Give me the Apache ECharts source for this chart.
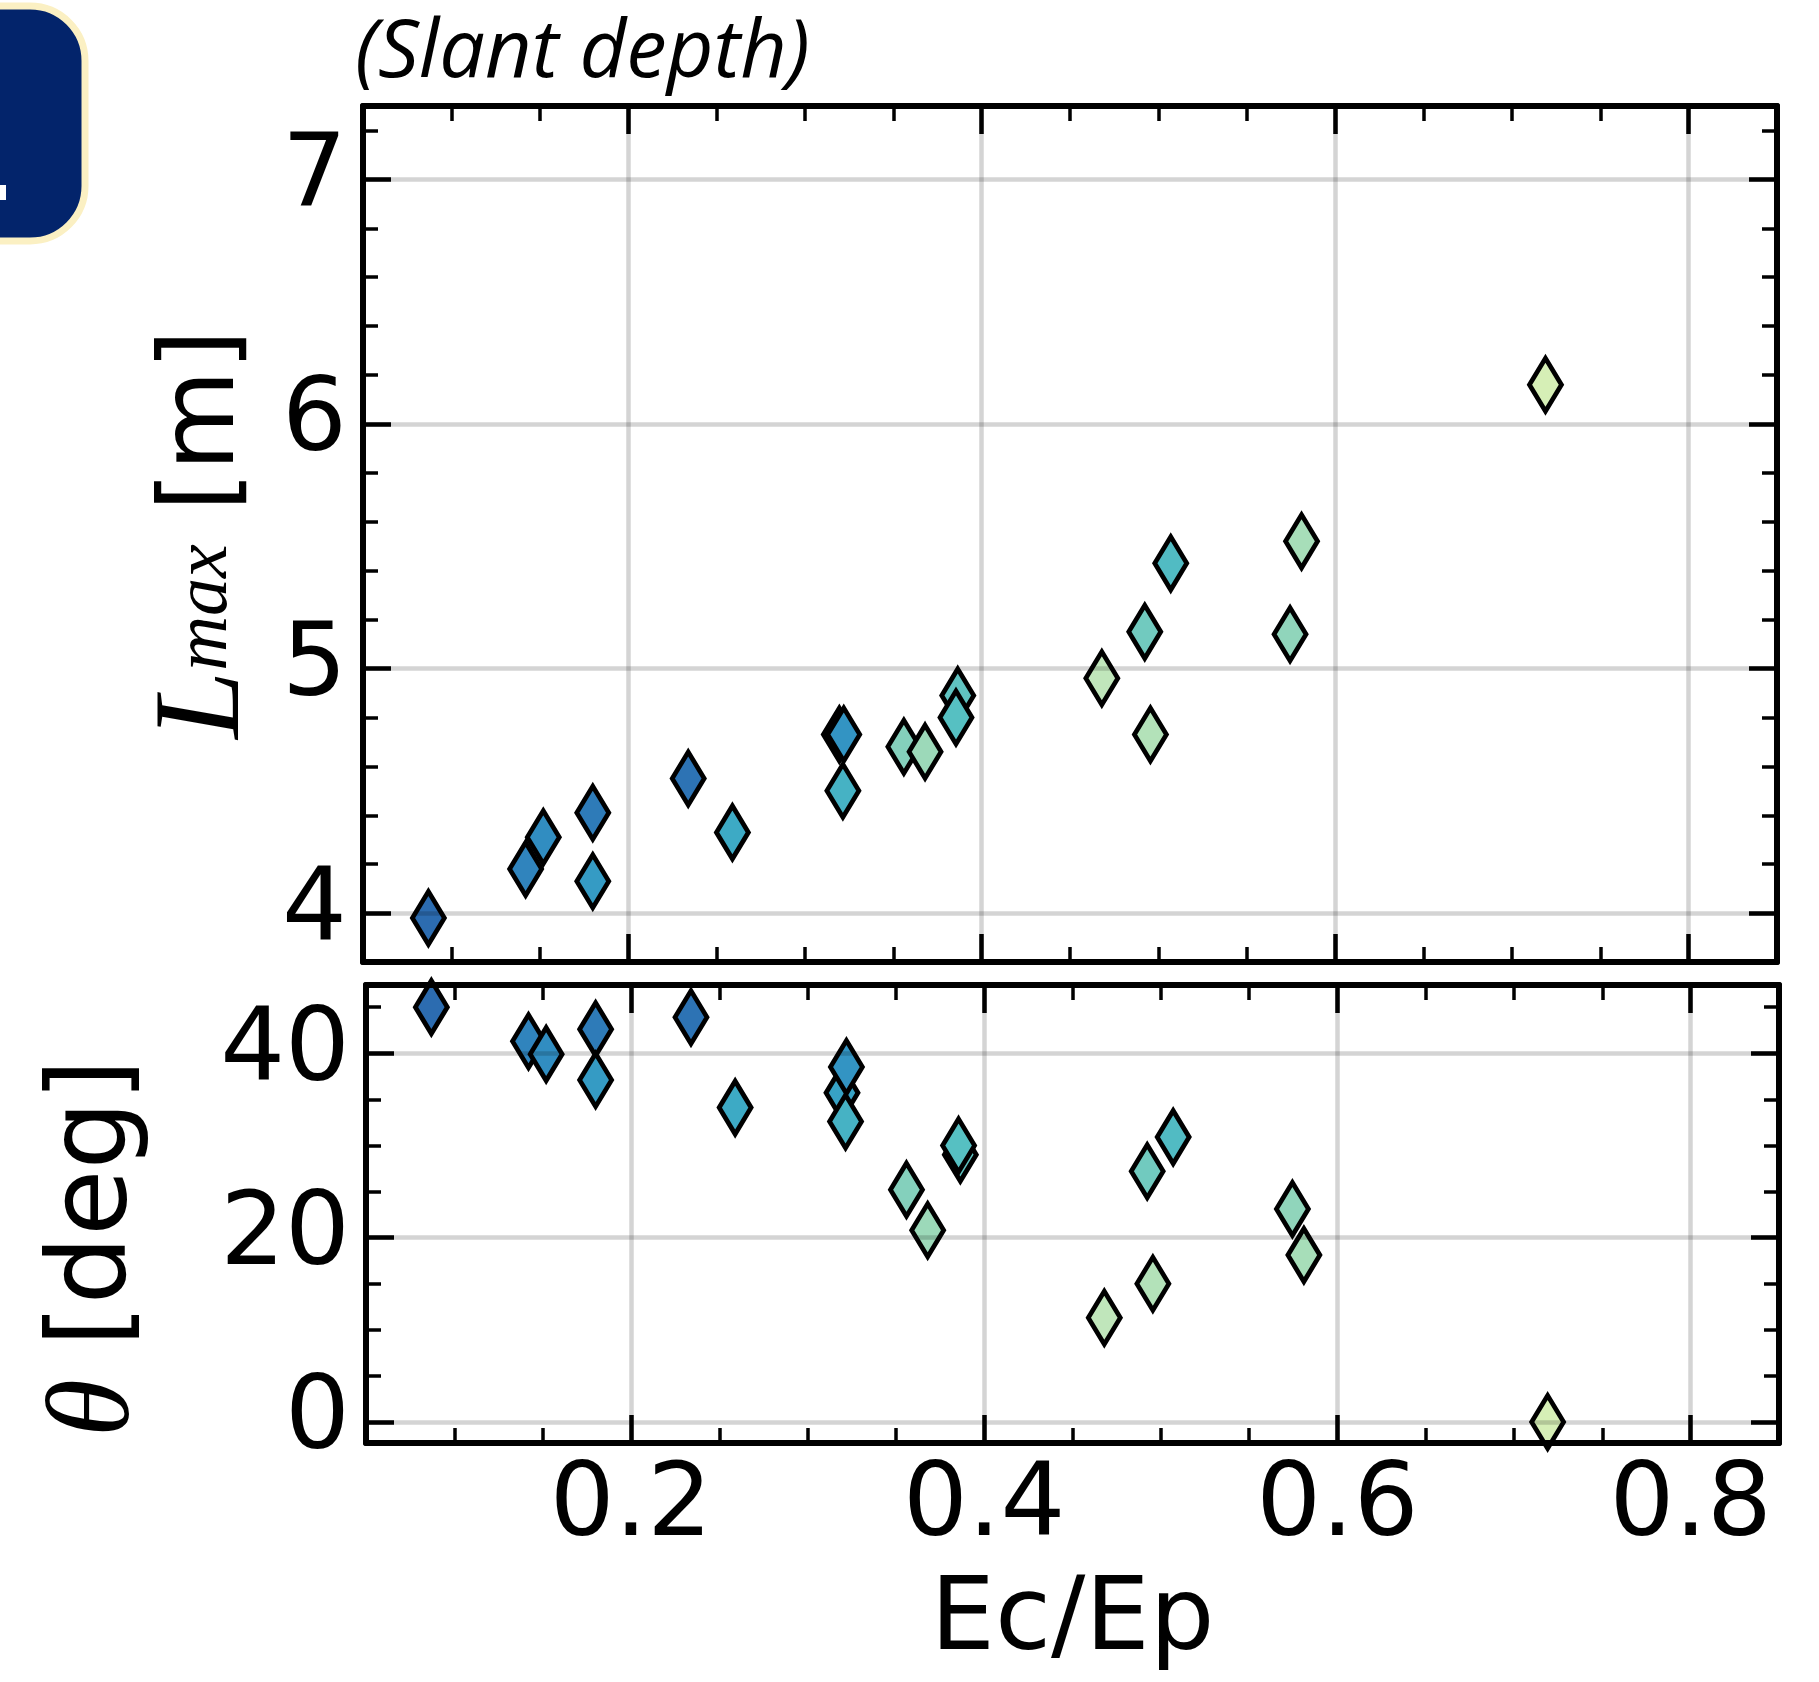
<!DOCTYPE html>
<html><head><meta charset="utf-8">
<script src="https://cdn.jsdelivr.net/npm/echarts@6/dist/echarts.min.js"></script>
<style>html,body{margin:0;padding:0;background:#fff}#c{width:1819px;height:1682px}</style>
</head><body><div id="c"></div>
<script>
// ---- data ----
const ecEp  = [0.087, 0.142, 0.152, 0.180, 0.180, 0.234, 0.259, 0.3195, 0.322, 0.3215, 0.356, 0.368, 0.3865, 0.3855, 0.468, 0.4955, 0.4923, 0.507, 0.5745, 0.581, 0.719];
const lMax  = [3.98, 4.18, 4.31, 4.41, 4.13, 4.55, 4.33, 4.73, 4.73, 4.50, 4.68, 4.66, 4.89, 4.80, 4.96, 4.73, 5.15, 5.43, 5.14, 5.52, 6.16];
const theta = [45.0, 41.3, 39.9, 42.6, 37.1, 43.9, 34.1, 35.7, 38.5, 32.6, 25.2, 20.8, 29.0, 30.0, 11.3, 15.0, 27.2, 30.9, 23.1, 18.1, 0.0];

// ---- tick values ----
const xMajor = [0.2, 0.4, 0.6, 0.8];
const xMinor = [0.1, 0.15, 0.25, 0.3, 0.35, 0.45, 0.5, 0.55, 0.65, 0.7, 0.75];
const lMajor = [4, 5, 6, 7];
const lMinor = [4.2, 4.4, 4.6, 4.8, 5.2, 5.4, 5.6, 5.8, 6.2, 6.4, 6.6, 6.8, 7.2];
const tMajor = [0, 20, 40];
const tMinor = [5, 10, 15, 25, 30, 35, 45];

const cmap = ['#d6efb6', '#cdebba', '#c5e8bc', '#b3e2b9', '#a0dbb9', '#86d1bc', '#56c0c2', '#38a5c6', '#318cc1', '#2c6cb0'];

const X_RANGE = [0.05, 0.85];
const L_RANGE = [3.8, 7.3];
const T_RANGE = [-2.28, 47.4];

const LABEL_FONT = {fontFamily: 'DejaVu Sans', fontSize: 102, color: '#000'};
const GRIDLINE = {color: 'rgba(0,0,0,0.17)', width: 4.5};

function axisSet(kind, gridIndex, range, major, minor, opts) {
  const posA = kind === 'x' ? 'bottom' : 'left';
  const posB = kind === 'x' ? 'top' : 'right';
  const base = {type: 'value', gridIndex, min: range[0], max: range[1], z: 3};
  const mainAxis = Object.assign({}, base, {
    position: posA,
    axisLine: {show: true, onZero: false, lineStyle: {color: '#000', width: 6}},
    axisTick: {show: true, inside: true, length: 28, lineStyle: {color: '#000', width: 4.5}, customValues: major},
    axisLabel: Object.assign({show: !!opts.labels, customValues: major, margin: opts.margin || 14}, LABEL_FONT),
    splitLine: {show: true, lineStyle: GRIDLINE}
  }, opts.extra || {});
  const oppAxis = Object.assign({}, base, {
    position: posB,
    axisLine: {show: true, onZero: false, lineStyle: {color: '#000', width: 6}},
    axisTick: {show: true, inside: true, length: 28, lineStyle: {color: '#000', width: 4.5}, customValues: major},
    axisLabel: {show: false},
    splitLine: {show: false}
  });
  const minorAxis = (p) => Object.assign({}, base, {
    position: p,
    axisLine: {show: false, onZero: false},
    axisTick: {show: true, inside: true, length: 15, lineStyle: {color: '#000', width: 3.5}, customValues: minor},
    axisLabel: {show: false},
    splitLine: {show: false}
  });
  return [mainAxis, oppAxis, minorAxis(posB), minorAxis(posA)];
}

const xAxes = [].concat(
  axisSet('x', 0, X_RANGE, xMajor, xMinor, {labels: false}),
  axisSet('x', 1, X_RANGE, xMajor, xMinor, {labels: true, margin: 14, extra: {
    name: 'Ec/Ep', nameLocation: 'middle', nameGap: 128,
    nameTextStyle: {fontFamily: 'DejaVu Sans', fontSize: 102, color: '#000'}
  }})
);
const yAxes = [].concat(
  axisSet('y', 0, L_RANGE, lMajor, lMinor, {labels: true, margin: 16, extra: {
    name: '{L|L}{s|max} {u|[m]}', nameLocation: 'middle', nameRotate: 90, nameGap: 96,
    nameTextStyle: {fontFamily: 'DejaVu Sans', fontSize: 102, color: '#000', rich: {
      L: {fontFamily: 'Liberation Serif', fontStyle: 'italic', fontSize: 122, color: '#000'},
      s: {fontFamily: 'Liberation Serif', fontStyle: 'italic', fontSize: 76, color: '#000', lineHeight: 56},
      u: {fontFamily: 'DejaVu Sans', fontSize: 104, color: '#000'}
    }}
  }}),
  axisSet('y', 1, T_RANGE, tMajor, tMinor, {labels: true, margin: 16, extra: {
    name: '{t|θ} {u|[deg]}', nameLocation: 'middle', nameRotate: 90, nameGap: 210,
    nameTextStyle: {fontFamily: 'DejaVu Sans', fontSize: 102, color: '#000', padding: [0, 68, 0, 0], rich: {
      t: {fontFamily: 'Liberation Serif', fontStyle: 'italic', fontSize: 118, color: '#000'},
      u: {fontFamily: 'DejaVu Sans', fontSize: 108, color: '#000'}
    }}
  }})
);

const markerStyle = {borderColor: '#000', borderWidth: 5, opacity: 1};

const option = {
  animation: false,
  backgroundColor: '#fff',
  grid: [
    {left: 363, top: 106, width: 1414, height: 856, containLabel: false},
    {left: 366, top: 985, width: 1413, height: 458, containLabel: false}
  ],
  xAxis: xAxes,
  yAxis: yAxes,
  visualMap: {
    show: false, type: 'continuous', min: 0, max: 45, dimension: 2,
    seriesIndex: [0, 1], inRange: {color: cmap}
  },
  series: [
    {
      type: 'scatter', name: 'Lmax', xAxisIndex: 0, yAxisIndex: 0, z: 2,
      symbol: 'diamond', symbolSize: [32, 53], itemStyle: markerStyle,
      data: ecEp.map((x, i) => [x, lMax[i], theta[i]])
    },
    {
      type: 'scatter', name: 'theta', xAxisIndex: 4, yAxisIndex: 4, z: 2,
      symbol: 'diamond', symbolSize: [32, 53], itemStyle: markerStyle,
      data: ecEp.map((x, i) => [x, theta[i], theta[i]])
    }
  ],
  graphic: [
    {type: 'rect', z: 10, shape: {x: -80, y: 6, width: 165, height: 235, r: 55},
     style: {fill: '#03246b', stroke: '#fbf0c3', lineWidth: 7}},
    {type: 'rect', z: 11, shape: {x: 0, y: 185, width: 6, height: 15}, style: {fill: '#ffffff'}},
    {type: 'text', z: 10, x: 355, y: 13,
     style: {text: '(Slant depth)', fontFamily: 'Open Sans', fontStyle: 'italic', fontSize: 81, fill: '#000', verticalAlign: 'top'}}
  ]
};

const chart = echarts.init(document.getElementById('c'), null, {renderer: 'canvas'});
chart.setOption(option);
</script>
</body></html>
